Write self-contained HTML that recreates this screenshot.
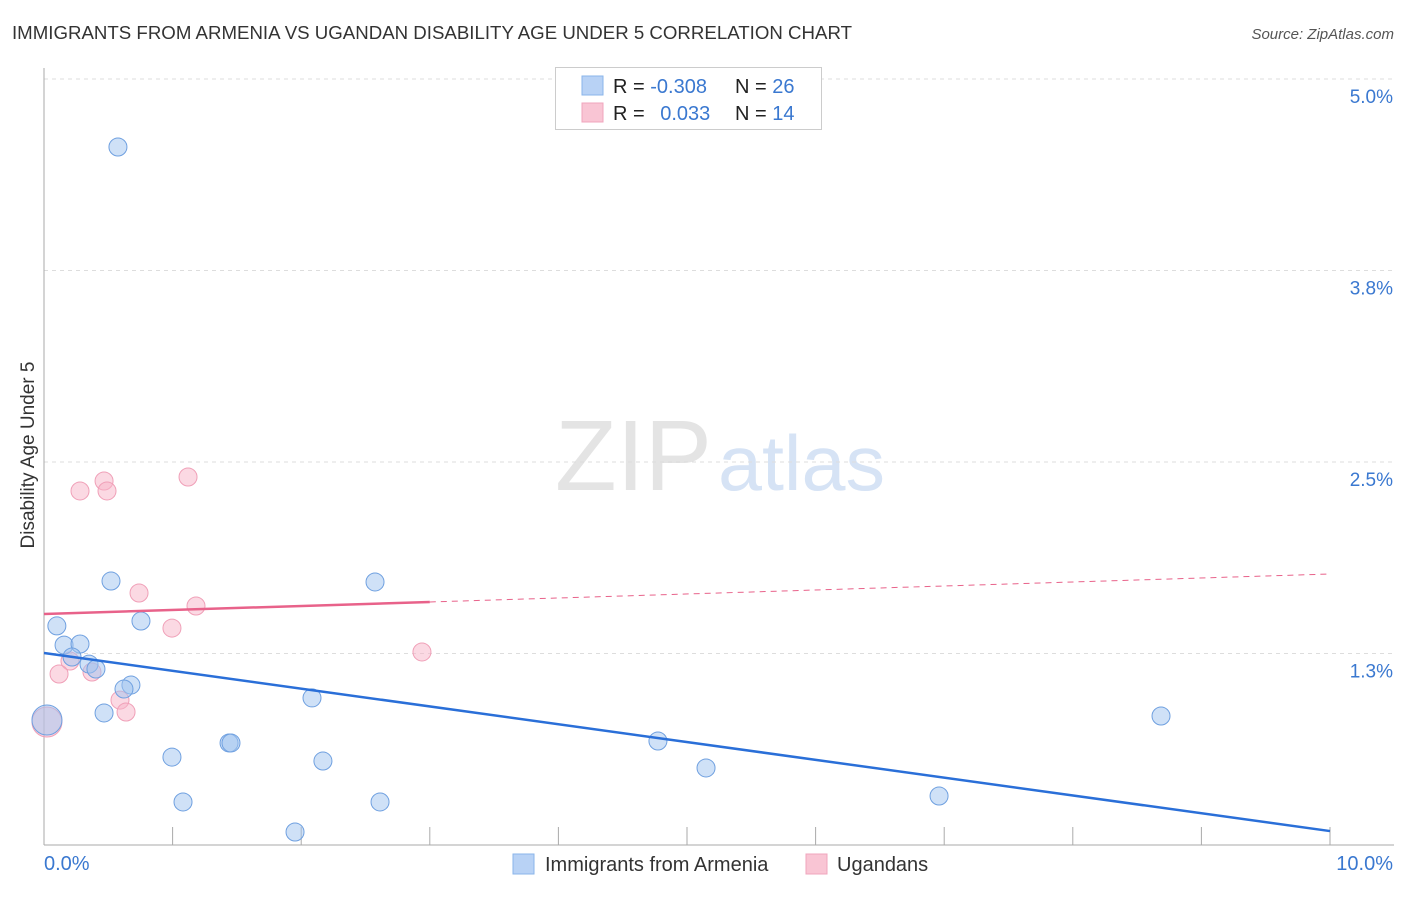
<!DOCTYPE html>
<html><head><meta charset="utf-8"><style>
body{margin:0;background:#fff;font-family:"Liberation Sans",sans-serif;}
svg text{font-family:"Liberation Sans",sans-serif;}
</style></head><body>
<svg id="chart" width="1406" height="892">
<text x="12" y="39" font-size="18" fill="#333" textLength="840" lengthAdjust="spacingAndGlyphs">IMMIGRANTS FROM ARMENIA VS UGANDAN DISABILITY AGE UNDER 5 CORRELATION CHART</text>
<text x="1394" y="39" font-size="15" fill="#555" text-anchor="end" font-style="italic">Source: ZipAtlas.com</text>
<text x="34" y="455" font-size="19" fill="#333" text-anchor="middle" transform="rotate(-90 34 455)">Disability Age Under 5</text>
<text x="555" y="490" font-size="100" fill="#e4e4e4" font-family="Liberation Serif" textLength="157" lengthAdjust="spacingAndGlyphs">ZIP</text>
<text x="718" y="490" font-size="78" fill="#d6e3f5" textLength="167" lengthAdjust="spacingAndGlyphs">atlas</text>
<g id="grid"></g><g id="axes"></g><g id="marks"></g>
<g>
<rect x="555.5" y="67.5" width="266" height="62" fill="#fff" stroke="#ccc"/>
<rect x="582" y="76" width="21" height="19" fill="#b8d2f5" stroke="#8ab4ea"/>
<rect x="582" y="103" width="21" height="19" fill="#f9c5d4" stroke="#f0a5bd"/>
<text x="613" y="93" font-size="20" fill="#222">R = <tspan fill="#3a78d0">-0.308</tspan></text>
<text x="735" y="93" font-size="20" fill="#222">N = <tspan fill="#3a78d0">26</tspan></text>
<text x="613" y="120" font-size="20" fill="#222">R = <tspan fill="#3a78d0" dx="10">0.033</tspan></text>
<text x="735" y="120" font-size="20" fill="#222">N = <tspan fill="#3a78d0">14</tspan></text>
</g>
<g>
<rect x="513" y="854" width="21" height="20" fill="#b8d2f5" stroke="#8ab4ea"/>
<text x="545" y="871" font-size="20" fill="#333">Immigrants from Armenia</text>
<rect x="806" y="854" width="21" height="20" fill="#f9c5d4" stroke="#f0a5bd"/>
<text x="837" y="871" font-size="20" fill="#333">Ugandans</text>
</g>
</svg>
<script>
const yTicks=[1.25,2.5,3.75,5.0];
const yTickLabels=["1.3%","2.5%","3.8%","5.0%"];
const xTickLabels=["0.0%","10.0%"];
const blueX=[0.575,0.10,0.156,0.28,0.218,0.35,0.404,0.676,0.622,0.521,0.754,0.467,0.995,1.439,1.454,1.081,2.084,2.169,2.574,2.613,1.952,4.774,5.148,6.960,8.686,0.023];
const blueY=[4.556,1.430,1.305,1.312,1.227,1.181,1.149,1.044,1.018,1.723,1.462,0.862,0.574,0.666,0.666,0.281,0.960,0.548,1.717,0.281,0.085,0.679,0.503,0.320,0.842,0.816];
const pinkX=[0.28,0.467,0.49,1.12,0.739,1.182,0.995,2.939,0.202,0.117,0.373,0.591,0.638,0.023];
const pinkY=[2.311,2.376,2.311,2.402,1.645,1.560,1.416,1.260,1.201,1.116,1.129,0.946,0.868,0.803];
const blueTrend=[1.253,0.091];
const pinkTrend=[1.508,1.769];
const X0=44,X1=1330,Y0=845,Y5=79;
const sx=v=>X0+(X1-X0)*v/10;
const sy=v=>Y0-(Y0-Y5)*v/5;
const NS="http://www.w3.org/2000/svg";
function mk(tag,attrs,parent){const e=document.createElementNS(NS,tag);for(const k in attrs)e.setAttribute(k,attrs[k]);document.getElementById(parent).appendChild(e);return e;}
yTicks.forEach((t,i)=>{
 const g=mk('line',{x1:X0,x2:1394,y1:sy(t),y2:sy(t),stroke:'#ddd','stroke-dasharray':'4,4'},'grid');
 
 
 const l=mk('text',{x:1393,y:sy(t)+24,'font-size':19,fill:'#3a78d0','text-anchor':'end'},'grid');
 l.textContent=yTickLabels[i];
 
 
});
const ax=mk('line',{x1:X0,x2:X0,y1:68,y2:Y0,stroke:'#aaa'},'axes');


const bx=mk('line',{x1:X0,x2:1394,y1:Y0,y2:Y0,stroke:'#aaa'},'axes');


for(let i=1;i<=10;i++){
 const t=mk('line',{x1:sx(i),x2:sx(i),y1:827,y2:Y0,stroke:'#aaa'},'axes');
 
 
}
const xl0=mk('text',{x:44,y:870,'font-size':20,fill:'#3a78d0'},'axes');xl0.textContent=xTickLabels[0];


const xl1=mk('text',{x:1393,y:870,'font-size':20,fill:'#3a78d0','text-anchor':'end'},'axes');xl1.textContent=xTickLabels[1];


function dots(xs,ys,fill,stroke,name){xs.forEach((x,i)=>{
 const big=(i===xs.length-1);
 const c=mk('circle',{cx:sx(x),cy:sy(ys[i]),r:big?15:9,fill:fill,stroke:stroke,'stroke-width':1},'marks');
 
 
});}
dots(pinkX,pinkY,'rgba(248,180,200,0.5)','#f0a0b8','ugandans-point');
dots(blueX,blueY,'rgba(160,196,240,0.5)','#6fa0e0','armenia-point');
const bt=mk('line',{x1:sx(0),y1:sy(blueTrend[0]),x2:sx(10),y2:sy(blueTrend[1]),stroke:'#2a6fd8','stroke-width':2.5},'marks');


const pv=x=>pinkTrend[0]+(pinkTrend[1]-pinkTrend[0])*x/10;
const pt=mk('line',{x1:sx(0),y1:sy(pv(0)),x2:sx(3),y2:sy(pv(3)),stroke:'#e8628a','stroke-width':2.5},'marks');


const pd=mk('line',{x1:sx(3),y1:sy(pv(3)),x2:sx(10),y2:sy(pv(10)),stroke:'#e8628a','stroke-width':1,'stroke-dasharray':'6,5'},'marks');


</script>
</body></html>
